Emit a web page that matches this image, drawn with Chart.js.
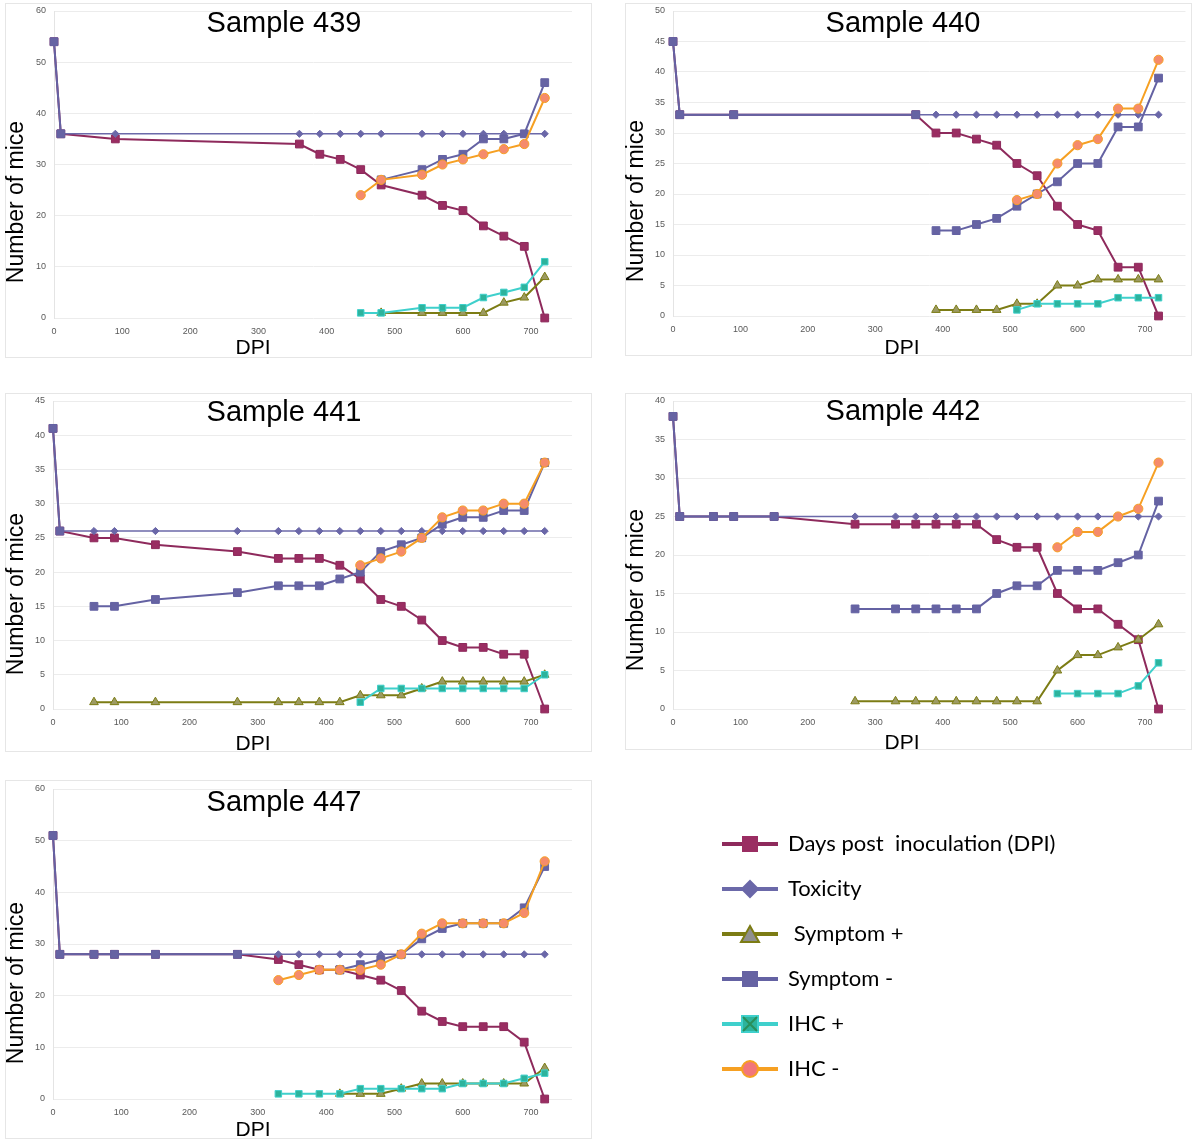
<!DOCTYPE html>
<html>
<head>
<meta charset="utf-8">
<script src="https://cdn.jsdelivr.net/npm/chart.js@4.4.1/dist/chart.umd.min.js"></script>
<style>
  body { margin: 0; background: #fff; width: 1200px; height: 1142px; position: relative; overflow: hidden; }
  canvas, .frame { position: absolute; }
  canvas { z-index: 1; }
  .frame { z-index: 0; border: 1px solid #e6e6e6; box-sizing: border-box; pointer-events: none; }
</style>
</head>
<body>
<canvas id="c439"></canvas>
<canvas id="c440"></canvas>
<canvas id="c441"></canvas>
<canvas id="c442"></canvas>
<canvas id="c447"></canvas>
<canvas id="legend"></canvas>

<script>
// Sampling days (DPI) shared by every panel; null = no value on that day
const DAYS = [0, 10, 60, 90, 150, 270, 330, 360, 390, 420, 450, 480, 510, 540, 570, 600, 630, 660, 690, 720];
const X_TICKS = [0, 100, 200, 300, 400, 500, 600, 700];
const SERIES_NAMES = ['Days post  inoculation (DPI)', 'Toxicity', ' Symptom +', 'Symptom -', 'IHC +', 'IHC -'];
const _ = null;

// Sample 439
const dpi439      = [54, 36, _, 35, _, _, _, 34, 32, 31, 29, 26, _, 24, 22, 21, 18, 16, 14, 0];
const tox439      = [_, 36, _, 36, _, _, _, 36, 36, 36, 36, 36, _, 36, 36, 36, 36, 36, 36, 36];
const symPlus439  = [_, _, _, _, _, _, _, _, _, _, _, 1, _, 1, 1, 1, 1, 3, 4, 8];
const symStart439 = [54, 36, _, _, _, _, _, _, _, _, _, _, _, _, _, _, _, _, _, _];
const symMinus439 = [_, _, _, _, _, _, _, _, _, _, _, 27, _, 29, 31, 32, 35, 35, 36, 46];
const ihcPlus439  = [_, _, _, _, _, _, _, _, _, _, 1, 1, _, 2, 2, 2, 4, 5, 6, 11];
const ihcMinus439 = [_, _, _, _, _, _, _, _, _, _, 24, 27, _, 28, 30, 31, 32, 33, 34, 43];

// Sample 440
const dpi440      = [45, 33, _, 33, _, _, _, 33, 30, 30, 29, 28, 25, 23, 18, 15, 14, 8, 8, 0];
const tox440      = [_, 33, _, 33, _, _, _, 33, 33, 33, 33, 33, 33, 33, 33, 33, 33, 33, 33, 33];
const symPlus440  = [_, _, _, _, _, _, _, _, 1, 1, 1, 1, 2, 2, 5, 5, 6, 6, 6, 6];
const symStart440 = [45, 33, _, 33, _, _, _, 33, _, _, _, _, _, _, _, _, _, _, _, _];
const symMinus440 = [_, _, _, _, _, _, _, _, 14, 14, 15, 16, 18, 20, 22, 25, 25, 31, 31, 39];
const ihcPlus440  = [_, _, _, _, _, _, _, _, _, _, _, _, 1, 2, 2, 2, 2, 3, 3, 3];
const ihcMinus440 = [_, _, _, _, _, _, _, _, _, _, _, _, 19, 20, 25, 28, 29, 34, 34, 42];

// Sample 441
const dpi441      = [41, 26, 25, 25, 24, 23, 22, 22, 22, 21, 19, 16, 15, 13, 10, 9, 9, 8, 8, 0];
const tox441      = [_, 26, 26, 26, 26, 26, 26, 26, 26, 26, 26, 26, 26, 26, 26, 26, 26, 26, 26, 26];
const symPlus441  = [_, _, 1, 1, 1, 1, 1, 1, 1, 1, 2, 2, 2, 3, 4, 4, 4, 4, 4, 5];
const symStart441 = [41, 26, _, _, _, _, _, _, _, _, _, _, _, _, _, _, _, _, _, _];
const symMinus441 = [_, _, 15, 15, 16, 17, 18, 18, 18, 19, 20, 23, 24, 25, 27, 28, 28, 29, 29, 36];
const ihcPlus441  = [_, _, _, _, _, _, _, _, _, _, 1, 3, 3, 3, 3, 3, 3, 3, 3, 5];
const ihcMinus441 = [_, _, _, _, _, _, _, _, _, _, 21, 22, 23, 25, 28, 29, 29, 30, 30, 36];

// Sample 442
const dpi442      = [38, 25, 25, 25, 25, 24, 24, 24, 24, 24, 24, 22, 21, 21, 15, 13, 13, 11, 9, 0];
const tox442      = [_, 25, 25, 25, 25, 25, 25, 25, 25, 25, 25, 25, 25, 25, 25, 25, 25, 25, 25, 25];
const symPlus442  = [_, _, _, _, _, 1, 1, 1, 1, 1, 1, 1, 1, 1, 5, 7, 7, 8, 9, 11];
const symStart442 = [38, 25, 25, 25, 25, _, _, _, _, _, _, _, _, _, _, _, _, _, _, _];
const symMinus442 = [_, _, _, _, _, 13, 13, 13, 13, 13, 13, 15, 16, 16, 18, 18, 18, 19, 20, 27];
const ihcPlus442  = [_, _, _, _, _, _, _, _, _, _, _, _, _, _, 2, 2, 2, 2, 3, 6];
const ihcMinus442 = [_, _, _, _, _, _, _, _, _, _, _, _, _, _, 21, 23, 23, 25, 26, 32];

// Sample 447
const dpi447      = [51, 28, 28, 28, 28, 28, 27, 26, 25, 25, 24, 23, 21, 17, 15, 14, 14, 14, 11, 0];
const tox447      = [_, 28, 28, 28, 28, 28, 28, 28, 28, 28, 28, 28, 28, 28, 28, 28, 28, 28, 28, 28];
const symPlus447  = [_, _, _, _, _, _, _, _, _, 1, 1, 1, 2, 3, 3, 3, 3, 3, 3, 6];
const symStart447 = [51, 28, 28, 28, 28, 28, _, _, _, _, _, _, _, _, _, _, _, _, _, _];
const symMinus447 = [_, _, _, _, _, _, _, _, _, 25, 26, 27, 28, 31, 33, 34, 34, 34, 37, 45];
const ihcPlus447  = [_, _, _, _, _, _, 1, 1, 1, 1, 2, 2, 2, 2, 2, 3, 3, 3, 4, 5];
const ihcMinus447 = [_, _, _, _, _, _, 23, 24, 25, 25, 25, 26, 28, 32, 34, 34, 34, 34, 36, 46];

const FONT = "'Liberation Sans', Arial, sans-serif";

// look of each series (order: lower number is drawn on top)
const STYLE = {
    dpi:      { line: '#8e2a5c', fill: '#9a2d62', edge: '#8e2a5c', point: 'rect',     radius: 5.5, width: 2,   order: 6 },
    tox:      { line: '#6b69a9', fill: '#6a67a8', edge: '#6a67a8', point: 'rectRot',  radius: 3.6, width: 1.5, order: 5 },
    symPlus:  { line: '#7c7c14', fill: '#9c9a62', edge: '#7c7c14', point: 'triangle', radius: 5,   width: 2,   order: 4 },
    ihcPlus:  { line: '#3fd0cc', fill: '#2db39c', edge: '#3fd0cc', point: 'rect',     radius: 4.6, width: 2,   order: 3 },
    symMinus: { line: '#6462a3', fill: '#6663a3', edge: '#6462a3', point: 'rect',     radius: 5.5, width: 2,   order: 2 },
    ihcMinus: { line: '#f6a022', fill: '#f58b6c', edge: '#f6a022', point: 'circle',   radius: 4.6, width: 2,   order: 1 }
};

function series(values, key) {
    const s = STYLE[key];
    return {
        data: DAYS.map((d, i) => ({ x: d, y: values[i] })),
        borderColor: s.line,
        borderWidth: s.width,
        backgroundColor: s.fill,
        pointStyle: s.point,
        pointRadius: s.radius,
        pointBackgroundColor: s.fill,
        pointBorderColor: s.edge,
        pointBorderWidth: 1,
        spanGaps: true,
        tension: 0,
        clip: false,
        order: s.order
    };
}

// panel title, "Number of mice" and "DPI" drawn where the original puts them
const panelText = {
    id: 'panelText',
    afterDraw(chart, args, opts) {
        const ctx = chart.ctx;
        ctx.save();
        ctx.fillStyle = '#000';
        ctx.textAlign = 'center';
        ctx.textBaseline = 'alphabetic';
        ctx.font = '29px ' + FONT;
        ctx.fillText(opts.title, opts.titleX, opts.titleY);
        ctx.font = '21px ' + FONT;
        ctx.fillText('DPI', opts.dpiX, opts.dpiY);
        ctx.translate(opts.yTitleX, opts.yTitleY);
        ctx.rotate(-Math.PI / 2);
        ctx.textBaseline = 'middle';
        ctx.font = '23px ' + FONT;
        ctx.fillText('Number of mice', 0, 0);
        ctx.restore();
    }
};

// canvas reaches a little below the grey frame so "DPI" is never cut
const BELOW_FRAME = 6;

function makePanel(id, box, area, yMax, yStep, text, values) {
    const canvas = document.getElementById(id);
    const h = box.h + BELOW_FRAME;
    canvas.width = box.w;
    canvas.height = h;
    canvas.style.left = box.x + 'px';
    canvas.style.top = box.y + 'px';

    const frame = document.createElement('div');
    frame.className = 'frame';
    Object.assign(frame.style, { left: box.x + 'px', top: box.y + 'px', width: box.w + 'px', height: box.h + 'px' });
    document.body.appendChild(frame);

    const local = (px, py) => ({ x: px - box.x, y: py - box.y });
    const t = local(text.titleX, text.titleY);
    const d = local(text.dpiX, text.dpiY);
    const yt = local(text.yTitleX, text.yTitleY);

    new Chart(canvas, {
        type: 'line',
        data: {
            datasets: [
                series(values.dpi, 'dpi'),
                series(values.tox, 'tox'),
                series(values.symPlus, 'symPlus'),
                series(values.symStart, 'symMinus'),
                series(values.symMinus, 'symMinus'),
                series(values.ihcPlus, 'ihcPlus'),
                series(values.ihcMinus, 'ihcMinus')
            ]
        },
        options: {
            responsive: false,
            animation: false,
            events: [],
            layout: {
                padding: { top: area.top - box.y, right: box.x + box.w - area.right, left: 0, bottom: 0 }
            },
            scales: {
                x: {
                    type: 'linear',
                    min: 0,
                    max: 760,
                    afterBuildTicks: scale => { scale.ticks = X_TICKS.map(v => ({ value: v })); },
                    ticks: { font: { size: 9, family: FONT }, color: '#595959', padding: 8, maxRotation: 0 },
                    grid: { display: false, drawTicks: false },
                    border: { display: false },
                    afterFit: scale => { scale.height = box.y + h - area.bottom; }
                },
                y: {
                    min: 0,
                    max: yMax,
                    ticks: { stepSize: yStep, font: { size: 9, family: FONT }, color: '#595959', padding: 8 },
                    grid: { color: '#ececec', drawTicks: false },
                    border: { color: '#e4e4e4' },
                    afterFit: scale => {
                        scale.width = area.left - box.x;
                        // the plot edges are fixed by the layout padding, not by the tick labels
                        scale.paddingTop = 0;
                        scale.paddingBottom = 0;
                    }
                }
            },
            plugins: {
                legend: { display: false },
                tooltip: { enabled: false },
                panelText: {
                    title: text.title,
                    titleX: t.x, titleY: t.y,
                    dpiX: d.x, dpiY: d.y,
                    yTitleX: yt.x, yTitleY: yt.y
                }
            }
        },
        plugins: [panelText]
    });
}

makePanel('c439', { x: 5, y: 3, w: 587, h: 355 }, { left: 54, top: 11, right: 572, bottom: 318 }, 60, 10,
    { title: 'Sample 439', titleX: 284, titleY: 32, dpiX: 253, dpiY: 354, yTitleX: 17, yTitleY: 202 },
    { dpi: dpi439, tox: tox439, symPlus: symPlus439, symStart: symStart439, symMinus: symMinus439, ihcPlus: ihcPlus439, ihcMinus: ihcMinus439 });

makePanel('c440', { x: 625, y: 3, w: 567, h: 353 }, { left: 673, top: 11, right: 1188, bottom: 316 }, 50, 5,
    { title: 'Sample 440', titleX: 903, titleY: 32, dpiX: 902, dpiY: 354, yTitleX: 637, yTitleY: 201 },
    { dpi: dpi440, tox: tox440, symPlus: symPlus440, symStart: symStart440, symMinus: symMinus440, ihcPlus: ihcPlus440, ihcMinus: ihcMinus440 });

makePanel('c441', { x: 5, y: 393, w: 587, h: 359 }, { left: 53, top: 401, right: 572, bottom: 709 }, 45, 5,
    { title: 'Sample 441', titleX: 284, titleY: 421, dpiX: 253, dpiY: 750, yTitleX: 17, yTitleY: 594 },
    { dpi: dpi441, tox: tox441, symPlus: symPlus441, symStart: symStart441, symMinus: symMinus441, ihcPlus: ihcPlus441, ihcMinus: ihcMinus441 });

makePanel('c442', { x: 625, y: 393, w: 567, h: 357 }, { left: 673, top: 401, right: 1188, bottom: 709 }, 40, 5,
    { title: 'Sample 442', titleX: 903, titleY: 420, dpiX: 902, dpiY: 749, yTitleX: 637, yTitleY: 590 },
    { dpi: dpi442, tox: tox442, symPlus: symPlus442, symStart: symStart442, symMinus: symMinus442, ihcPlus: ihcPlus442, ihcMinus: ihcMinus442 });

makePanel('c447', { x: 5, y: 780, w: 587, h: 359 }, { left: 53, top: 789, right: 572, bottom: 1099 }, 60, 10,
    { title: 'Sample 447', titleX: 284, titleY: 811, dpiX: 253, dpiY: 1136, yTitleX: 17, yTitleY: 983 },
    { dpi: dpi447, tox: tox447, symPlus: symPlus447, symStart: symStart447, symMinus: symMinus447, ihcPlus: ihcPlus447, ihcMinus: ihcMinus447 });

// Legend: line with the marker in its middle, as in the original key
const LEGEND_KEYS = ['dpi', 'tox', 'symPlus', 'symMinus', 'ihcPlus', 'ihcMinus'];

function legendIcon(key) {
    const s = STYLE[key];
    const c = document.createElement('canvas');
    c.width = 58;
    c.height = 22;
    const g = c.getContext('2d');
    g.strokeStyle = s.line;
    g.lineWidth = 4;
    g.beginPath();
    g.moveTo(1, 11);
    g.lineTo(57, 11);
    g.stroke();
    g.lineWidth = 2;
    g.strokeStyle = s.edge;
    g.fillStyle = s.fill;
    g.beginPath();
    if (s.point === 'rect') {
        g.rect(21, 3, 16, 16);
    } else if (s.point === 'rectRot') {
        g.moveTo(29, 3); g.lineTo(37, 11); g.lineTo(29, 19); g.lineTo(21, 11); g.closePath();
    } else if (s.point === 'triangle') {
        g.fillStyle = '#8f8f8f';
        g.moveTo(29, 3); g.lineTo(38, 19); g.lineTo(20, 19); g.closePath();
    } else {
        g.fillStyle = '#f2767a';
        g.arc(29, 11, 8, 0, Math.PI * 2);
    }
    g.fill();
    if (s.point !== 'rect' || key === 'ihcPlus') g.stroke();
    if (key === 'ihcPlus') {
        g.strokeStyle = '#2a8f5a';
        g.lineWidth = 2;
        g.beginPath();
        g.moveTo(22, 4); g.lineTo(36, 18);
        g.moveTo(36, 4); g.lineTo(22, 18);
        g.stroke();
    }
    return c;
}

const legendCanvas = document.getElementById('legend');
legendCanvas.width = 440;
legendCanvas.height = 320;
legendCanvas.style.left = '700px';
legendCanvas.style.top = '810px';

new Chart(legendCanvas, {
    type: 'line',
    data: { datasets: SERIES_NAMES.map(name => ({ label: name, data: [] })) },
    options: {
        responsive: false,
        animation: false,
        events: [],
        scales: { x: { display: false }, y: { display: false } },
        plugins: {
            tooltip: { enabled: false },
            legend: {
                position: 'left',
                align: 'start',
                maxWidth: 440,
                labels: {
                    usePointStyle: true,
                    pointStyleWidth: 54,
                    padding: 23,
                    color: '#111',
                    font: { size: 22, family: "Lato, 'Liberation Sans', sans-serif" },
                    generateLabels: chart => chart.data.datasets.map((ds, i) => ({
                        text: ds.label,
                        pointStyle: legendIcon(LEGEND_KEYS[i]),
                        fillStyle: 'transparent',
                        strokeStyle: 'transparent',
                        lineWidth: 0,
                        hidden: false,
                        datasetIndex: i
                    }))
                }
            }
        }
    }
});
</script>
</body>
</html>
